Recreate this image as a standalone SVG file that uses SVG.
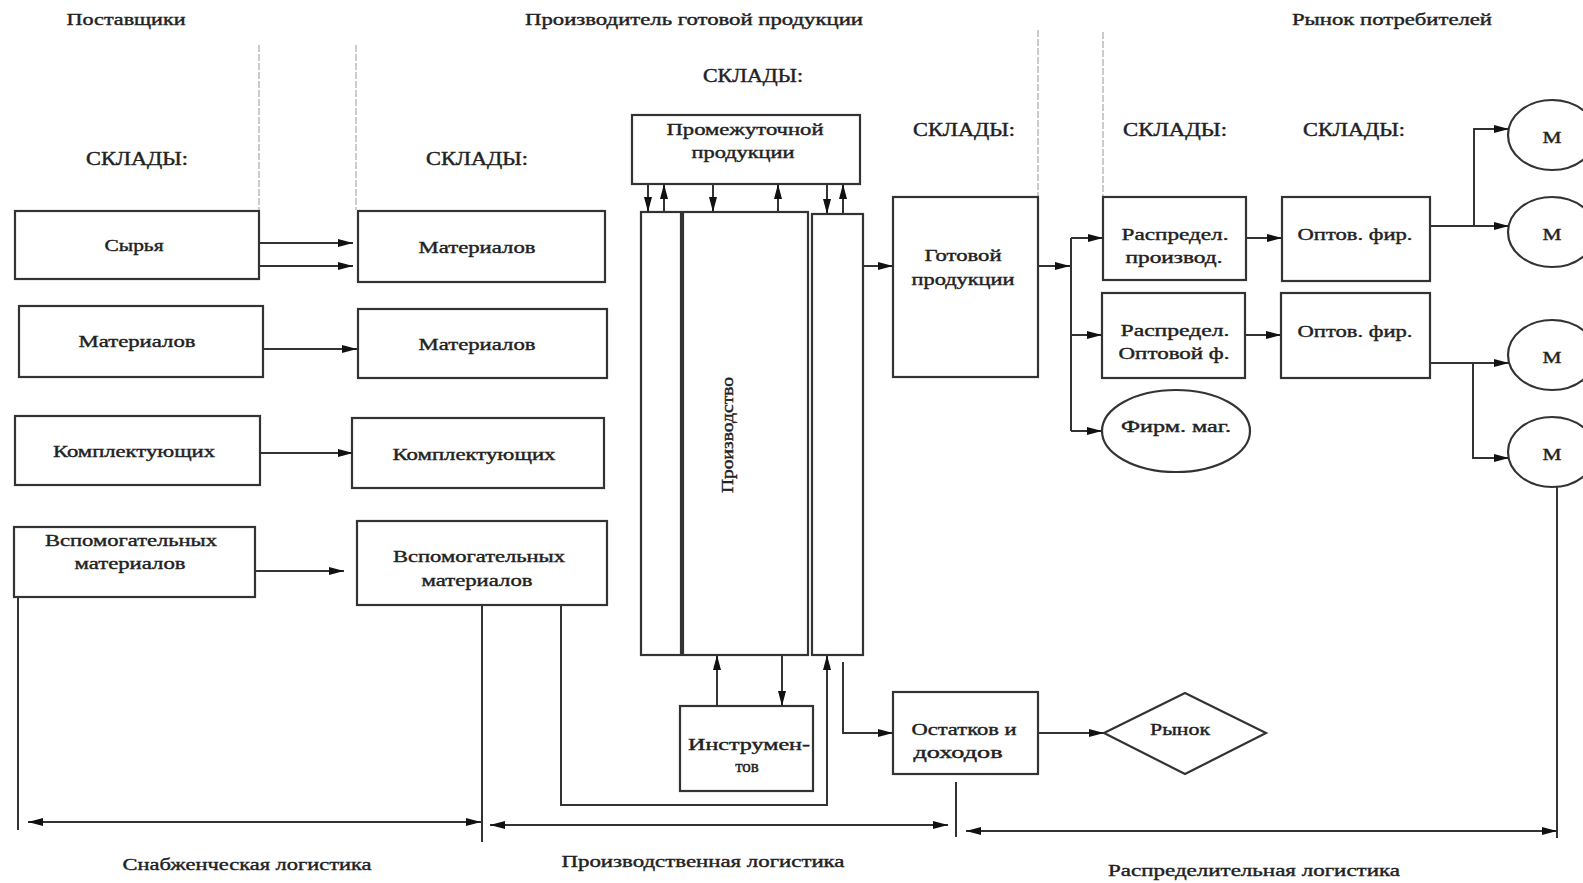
<svg xmlns="http://www.w3.org/2000/svg" width="1583" height="883" viewBox="0 0 1583 883">
<style>
text{font-family:"Liberation Serif","Times New Roman",serif;fill:#222;stroke:#222;stroke-width:0.4;font-size:17px;text-anchor:middle}
.h{font-size:17px}
.s{font-size:18px}
.b{fill:#fff;stroke:#333;stroke-width:2.2}
.c{fill:none;stroke:#333;stroke-width:2}
.a{marker-end:url(#ah)}
.d{marker-start:url(#ah);marker-end:url(#ah)}
.g{fill:none;stroke:#999;stroke-width:1;stroke-dasharray:7 2}
</style>
<defs>
<marker id="ah" viewBox="0 0 15 9" refX="15" refY="4.5" markerWidth="15" markerHeight="9" orient="auto-start-reverse" markerUnits="userSpaceOnUse"><path d="M0,0.5 L15,4.5 L0,8.5 z" fill="#111"/></marker>
</defs>
<rect width="1583" height="883" fill="#fff"/>

<g id="headers">
<text class="h" x="126" y="25" textLength="119" lengthAdjust="spacingAndGlyphs">Поставщики</text>
<text class="h" x="694" y="25" textLength="338" lengthAdjust="spacingAndGlyphs">Производитель готовой продукции</text>
<text class="h" x="1392" y="25" textLength="200" lengthAdjust="spacingAndGlyphs">Рынок потребителей</text>
<text class="s" x="137" y="165" textLength="102" lengthAdjust="spacingAndGlyphs">СКЛАДЫ:</text>
<text class="s" x="477" y="165" textLength="102" lengthAdjust="spacingAndGlyphs">СКЛАДЫ:</text>
<text class="s" x="753" y="82" textLength="100" lengthAdjust="spacingAndGlyphs">СКЛАДЫ:</text>
<text class="s" x="964" y="136" textLength="102" lengthAdjust="spacingAndGlyphs">СКЛАДЫ:</text>
<text class="s" x="1175" y="136" textLength="104" lengthAdjust="spacingAndGlyphs">СКЛАДЫ:</text>
<text class="s" x="1354" y="136" textLength="102" lengthAdjust="spacingAndGlyphs">СКЛАДЫ:</text>
</g>

<g id="guides">
<path class="g" d="M259,45 V210"/>
<path class="g" d="M356,45 V210"/>
<path class="g" d="M1038,30 V197"/>
<path class="g" d="M1103,32 V197"/>
</g>

<g id="n-syrya"><rect class="b" x="15" y="211" width="244" height="68"/><text x="134" y="251" textLength="59" lengthAdjust="spacingAndGlyphs">Сырья</text></g>
<g id="n-mat-l"><rect class="b" x="19" y="306" width="244" height="71"/><text x="137" y="347" textLength="117" lengthAdjust="spacingAndGlyphs">Материалов</text></g>
<g id="n-kompl-l"><rect class="b" x="15" y="416" width="245" height="69"/><text x="134" y="457" textLength="162" lengthAdjust="spacingAndGlyphs">Комплектующих</text></g>
<g id="n-vsp-l"><rect class="b" x="14" y="527" width="241" height="70"/><text x="131" y="546" textLength="172" lengthAdjust="spacingAndGlyphs">Вспомогательных</text><text x="130" y="569" textLength="111" lengthAdjust="spacingAndGlyphs">материалов</text></g>

<g id="n-mat-1"><rect class="b" x="358" y="211" width="247" height="71"/><text x="477" y="253" textLength="117" lengthAdjust="spacingAndGlyphs">Материалов</text></g>
<g id="n-mat-2"><rect class="b" x="358" y="309" width="249" height="69"/><text x="477" y="350" textLength="117" lengthAdjust="spacingAndGlyphs">Материалов</text></g>
<g id="n-kompl-m"><rect class="b" x="352" y="418" width="252" height="70"/><text x="474" y="460" textLength="163" lengthAdjust="spacingAndGlyphs">Комплектующих</text></g>
<g id="n-vsp-m"><rect class="b" x="357" y="521" width="250" height="84"/><text x="479" y="562" textLength="172" lengthAdjust="spacingAndGlyphs">Вспомогательных</text><text x="477" y="586" textLength="111" lengthAdjust="spacingAndGlyphs">материалов</text></g>

<g id="n-prom"><rect class="b" x="632" y="115" width="228" height="69"/><text x="745" y="135" textLength="157" lengthAdjust="spacingAndGlyphs">Промежуточной</text><text x="743" y="158" textLength="103" lengthAdjust="spacingAndGlyphs">продукции</text></g>
<g id="n-prod">
<rect class="b" x="641" y="212" width="40" height="443"/>
<rect class="b" x="683" y="212" width="125" height="443"/>
<rect class="b" x="812" y="214" width="51" height="441"/>
<text transform="translate(733,435) rotate(-90)" textLength="116" lengthAdjust="spacingAndGlyphs">Производство</text>
</g>
<g id="n-gotov"><rect class="b" x="893" y="197" width="145" height="180"/><text x="963" y="261" textLength="77" lengthAdjust="spacingAndGlyphs">Готовой</text><text x="963" y="285" textLength="103" lengthAdjust="spacingAndGlyphs">продукции</text></g>
<g id="n-instr"><rect class="b" x="680" y="706" width="133" height="85"/><text x="749" y="750" textLength="122" lengthAdjust="spacingAndGlyphs">Инструмен-</text><text x="747" y="772">тов</text></g>
<g id="n-ost"><rect class="b" x="893" y="692" width="145" height="82"/><text x="964" y="735" textLength="105" lengthAdjust="spacingAndGlyphs">Остатков и</text><text x="958" y="758" textLength="89" lengthAdjust="spacingAndGlyphs">доходов</text></g>
<g id="n-rynok"><path class="b" d="M1104,733 L1185,693 L1266,733 L1185,774 Z"/><text x="1180" y="735" textLength="60" lengthAdjust="spacingAndGlyphs">Рынок</text></g>

<g id="n-rasp1"><rect class="b" x="1103" y="197" width="143" height="83"/><text x="1175" y="240" textLength="107" lengthAdjust="spacingAndGlyphs">Распредел.</text><text x="1174" y="263" textLength="97" lengthAdjust="spacingAndGlyphs">производ.</text></g>
<g id="n-rasp2"><rect class="b" x="1102" y="293" width="143" height="85"/><text x="1175" y="336" textLength="109" lengthAdjust="spacingAndGlyphs">Распредел.</text><text x="1174" y="359" textLength="111" lengthAdjust="spacingAndGlyphs">Оптовой ф.</text></g>
<g id="n-firm"><ellipse class="b" cx="1176" cy="431" rx="74" ry="41"/><text x="1176" y="432" textLength="110" lengthAdjust="spacingAndGlyphs">Фирм. маг.</text></g>
<g id="n-opt1"><rect class="b" x="1282" y="197" width="148" height="84"/><text x="1355" y="240" textLength="115" lengthAdjust="spacingAndGlyphs">Оптов. фир.</text></g>
<g id="n-opt2"><rect class="b" x="1281" y="293" width="149" height="85"/><text x="1355" y="337" textLength="115" lengthAdjust="spacingAndGlyphs">Оптов. фир.</text></g>
<g id="n-m1"><ellipse class="b" cx="1552" cy="135" rx="44" ry="35"/><text x="1552" y="143" textLength="19" lengthAdjust="spacingAndGlyphs">М</text></g>
<g id="n-m2"><ellipse class="b" cx="1552" cy="232" rx="44" ry="35"/><text x="1552" y="240" textLength="19" lengthAdjust="spacingAndGlyphs">М</text></g>
<g id="n-m3"><ellipse class="b" cx="1552" cy="355" rx="44" ry="35"/><text x="1552" y="363" textLength="19" lengthAdjust="spacingAndGlyphs">М</text></g>
<g id="n-m4"><ellipse class="b" cx="1552" cy="452" rx="44" ry="35"/><text x="1552" y="460" textLength="19" lengthAdjust="spacingAndGlyphs">М</text></g>

<g id="connectors">
<path class="c a" d="M259,243 H353"/>
<path class="c a" d="M259,266 H353"/>
<path class="c a" d="M263,349 H357"/>
<path class="c a" d="M260,453 H353"/>
<path class="c a" d="M255,571 H344"/>
<path class="c a" d="M648,184 V212"/>
<path class="c a" d="M664,212 V184"/>
<path class="c a" d="M713,184 V212"/>
<path class="c a" d="M778,212 V184"/>
<path class="c a" d="M827,184 V214"/>
<path class="c a" d="M843,214 V184"/>
<path class="c a" d="M863,266 H893"/>
<path class="c a" d="M1038,266 H1070"/>
<path class="c" d="M1071,238 V431"/>
<path class="c a" d="M1071,238 H1103"/>
<path class="c a" d="M1071,335 H1102"/>
<path class="c a" d="M1071,431 H1102"/>
<path class="c a" d="M1246,238 H1282"/>
<path class="c a" d="M1245,335 H1281"/>
<path class="c a" d="M1430,226 H1509"/>
<path class="c a" d="M1474,226 V129 H1509"/>
<path class="c a" d="M1430,363 H1509"/>
<path class="c a" d="M1473,363 V458 H1509"/>
<path class="c" d="M1557,487 V838"/>
<path class="c a" d="M717,706 V655"/>
<path class="c a" d="M782,655 V706"/>
<path class="c a" d="M561,605 V805 H827 V655"/>
<path class="c a" d="M843,662 V733 H893"/>
<path class="c a" d="M1038,733 H1104"/>
<path class="c" d="M18,597 V830"/>
<path class="c" d="M482,605 V842"/>
<path class="c d" d="M28,822 H481"/>
<path class="c d" d="M490,825 H948"/>
<path class="c" d="M956,782 V837"/>
<path class="c d" d="M966,831 H1557"/>
</g>

<g id="footer">
<text x="247" y="870" textLength="249" lengthAdjust="spacingAndGlyphs">Снабженческая логистика</text>
<text x="703" y="867" textLength="283" lengthAdjust="spacingAndGlyphs">Производственная логистика</text>
<text x="1254" y="876" textLength="292" lengthAdjust="spacingAndGlyphs">Распределительная логистика</text>
</g>
</svg>
